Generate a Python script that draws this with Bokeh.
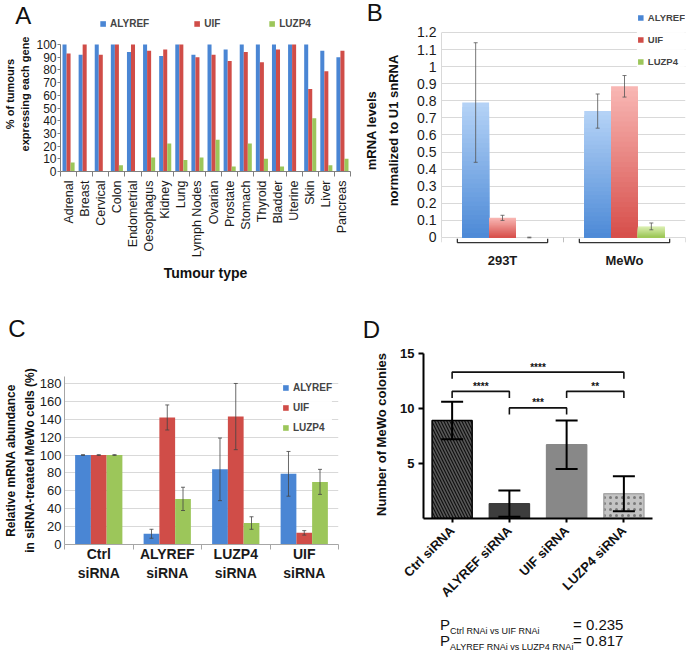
import numpy as np
from math import pi
from bokeh.plotting import figure
from bokeh.models import (Range1d, FixedTicker, Label, Legend, LegendItem, Whisker,
                          TeeHead, ColumnDataSource, Div, LinearAxis)
from bokeh.layouts import row, column
from bokeh.embed import file_html
from bokeh.resources import INLINE

FONT = "Liberation Sans"

# ---------------- data ----------------
genes = ["ALYREF", "UIF", "LUZP4"]

tumours = ["Adrenal", "Breast", "Cervical", "Colon", "Endometrial", "Oesophagus", "Kidney",
           "Lung", "Lymph Nodes", "Ovarian", "Prostate", "Stomach", "Thyroid", "Bladder",
           "Uterine", "Skin", "Liver", "Pancreas"]
a_alyref = [100, 92, 100, 100, 94, 100, 91, 100, 92, 100, 96, 100, 100, 100, 100, 100, 95, 90]
a_uif = [93, 100, 92, 100, 100, 95, 96, 100, 90, 92, 87, 94, 86, 96, 100, 65, 79, 95]
a_luzp4 = [7, 0, 0, 5, 0, 11, 22, 9, 11, 25, 4, 22, 10, 4, 0, 42, 5, 10]
a_yticks = list(range(0, 101, 10))

cell_lines = ["293T", "MeWo"]
b_alyref = [0.79, 0.74]
b_alyref_err = [0.35, 0.10]
b_uif = [0.115, 0.885]
b_uif_err = [0.015, 0.063]
b_luzp4 = [0.0, 0.065]
b_luzp4_err = [0.002, 0.02]
b_yticks = [0.0, 0.1, 0.2, 0.3, 0.4, 0.5, 0.6, 0.7, 0.8, 0.9, 1.0, 1.1, 1.2]

sirna = ["Ctrl\nsiRNA", "ALYREF\nsiRNA", "LUZP4\nsiRNA", "UIF\nsiRNA"]
c_alyref = [100, 12, 84, 79]
c_alyref_err = [0.4, 5, 35, 25]
c_uif = [100, 142, 143, 13]
c_uif_err = [0.4, 14, 37, 2.5]
c_luzp4 = [100, 51, 24, 70]
c_luzp4_err = [0.4, 13, 7, 14]
c_yticks = list(range(0, 181, 20))

d_groups = ["Ctrl siRNA", "ALYREF siRNA", "UIF siRNA", "LUZP4 siRNA"]
d_mean = [8.9, 1.35, 6.7, 2.25]
d_lower = [7.2, 0.15, 4.5, 0.65]
d_upper = [10.6, 2.55, 8.9, 3.85]
d_yticks = [5, 10, 15]
d_pairs = [(0, 3), (0, 1), (1, 2), (2, 3)]
d_stars = ["****", "****", "***", "**"]
d_bracket_y = [13.3, 11.55, 10.05, 11.55]
p_subs = ["Ctrl RNAi vs UIF RNAi", "ALYREF RNAi vs LUZP4 RNAi"]
p_values = ["= 0.235", "= 0.817"]

# ---------------- styles ----------------
BLUE, RED, GREEN = "#4a86d4", "#d04d48", "#9cc65a"
GRAD = [("#b4d2f6", "#4a88d6"), ("#f8b6b3", "#d64c48"), ("#dcefb4", "#98c451")]
TOP_H, BOT_H = 314, 336


def style(p):
    p.outline_line_color = None
    p.background_fill_color = "white"
    p.border_fill_color = "white"
    p.xgrid.visible = False
    p.ygrid.visible = False


def axis_font(ax, size, bold=False, color="#1a1a1a"):
    ax.major_label_text_font = FONT
    ax.major_label_text_font_size = f"{size}px"
    ax.major_label_text_font_style = "bold" if bold else "normal"
    ax.major_label_text_color = color


def axis_title(ax, text, size, standoff, line_height=1.0):
    ax.axis_label = text
    ax.axis_label_text_font = FONT
    ax.axis_label_text_font_size = f"{size}px"
    ax.axis_label_text_font_style = "bold"
    ax.axis_label_text_color = "#111111"
    ax.axis_label_standoff = standoff
    ax.axis_label_text_line_height = line_height


def outer_title(p, text, size, standoff):
    # first line of a two-line y-axis title, carried by a bare extra axis
    ax = LinearAxis(ticker=FixedTicker(ticks=[]), axis_line_color=None,
                    major_tick_line_color=None, minor_tick_line_color=None,
                    major_tick_out=0, major_tick_in=0, minor_tick_out=0, minor_tick_in=0,
                    major_label_standoff=0, major_label_text_font_size="0px")
    axis_title(ax, text, size, standoff)
    p.add_layout(ax, "left")


def mix(c1, c2, f):
    a = [int(c1[i:i + 2], 16) for i in (1, 3, 5)]
    b = [int(c2[i:i + 2], 16) for i in (1, 3, 5)]
    return "#%02x%02x%02x" % tuple(int(round(x + (y - x) * f)) for x, y in zip(a, b))


def legend(items, size=10, **kw):
    return Legend(items=items, label_text_font=FONT, label_text_font_size=f"{size}px",
                  label_text_font_style="bold", glyph_width=7, glyph_height=7,
                  label_height=10, label_standoff=4, border_line_color=None, **kw)


def whiskers(p, xs, vals, errs, color, width, size):
    src = ColumnDataSource(dict(base=list(xs),
                                lower=[v - e for v, e in zip(vals, errs)],
                                upper=[v + e for v, e in zip(vals, errs)]))
    p.add_layout(Whisker(source=src, base="base", lower="lower", upper="upper",
                         line_color=color, line_width=width, level="annotation",
                         upper_head=TeeHead(size=size, line_color=color, line_width=width),
                         lower_head=TeeHead(size=size, line_color=color, line_width=width)))


def letter(p, geo, ix, iy, text, side):
    # panel letter at a page-pixel position, expressed in the figure's data space,
    # kept in a side panel so that it is not clipped to the plot frame
    W, H, L, R, T, B, ox, oy = geo
    xr, yr = p.x_range, p.y_range
    fl, fr, ft, fb = ox + L, ox + W - R, oy + T, oy + H - B
    x = xr.start + (ix - fl) / (fr - fl) * (xr.end - xr.start)
    y = yr.start + (fb - iy) / (fb - ft) * (yr.end - yr.start)
    p.add_layout(Label(x=x, y=y, text=text, text_font=FONT, text_font_size="24px",
                       text_align="center", text_baseline="middle", text_color="#111111"),
                 side)


# ================= Panel A =================
GA = (360, TOP_H, 54, 10, 16, TOP_H - 171, 0, 0)
WA, HA, LA, RA, TA, BA = GA[:6]
xa = list(range(len(tumours)))
pa = figure(width=WA, height=HA, x_range=Range1d(-0.5, len(tumours) - 0.5),
            y_range=Range1d(0, 122.05), output_backend="svg", toolbar_location=None,
            min_border_left=LA, min_border_right=RA, min_border_top=TA, min_border_bottom=BA)
style(pa)
wa = 0.25
rs = []
for k, (vals, col) in enumerate(zip([a_alyref, a_uif, a_luzp4], [BLUE, RED, GREEN])):
    rs.append(pa.vbar(x=[x + (k - 1) * wa for x in xa], top=vals, width=wa,
                      fill_color=col, line_color=None))
ya = pa.yaxis[0]
ya.ticker = FixedTicker(ticks=a_yticks)
ya.bounds = (0, 100)
ya.axis_line_color = "#808080"
ya.major_tick_line_color = "#808080"
ya.major_tick_out, ya.major_tick_in = 3, 0
ya.minor_tick_line_color = None
ya.minor_tick_out, ya.minor_tick_in = 0, 0
ya.major_label_standoff = 1
axis_font(ya, 12)
axis_title(ya, "expressing each gene", 11, 2)
outer_title(pa, "% of tumours", 11, 1)
xax = pa.xaxis[0]
xax.ticker = FixedTicker(ticks=xa, minor_ticks=[x - 0.5 for x in xa] + [len(xa) - 0.5])
xax.major_label_overrides = {i: t for i, t in enumerate(tumours)}
xax.major_label_orientation = pi / 2
xax.major_tick_line_color = None
xax.major_tick_out, xax.major_tick_in = 0, 0
xax.minor_tick_line_color = "#808080"
xax.minor_tick_out, xax.minor_tick_in = 5, 0
xax.axis_line_color = "#808080"
xax.major_label_standoff = 4
axis_font(xax, 12.5)
axis_title(xax, "Tumour type", 14, 5)
pa.add_layout(legend([LegendItem(label=g, renderers=[r]) for g, r in zip(genes, rs)],
                     orientation="horizontal", location="top_center", spacing=44,
                     padding=2, margin=2, background_fill_alpha=0))
letter(pa, GA, 16, 15, "A", "below")

# ================= Panel B =================
GB = (336, TOP_H, 80, 11, 12, TOP_H - 248, 360, 0)
WB, HB, LB, RB, TB, BB = GB[:6]
xb = list(range(len(cell_lines)))
pb = figure(width=WB, height=HB, x_range=Range1d(-0.5, len(cell_lines) - 0.5),
            y_range=Range1d(-0.0644, 1.317), output_backend="svg", toolbar_location=None,
            min_border_left=LB, min_border_right=RB, min_border_top=TB, min_border_bottom=BB)
style(pb)
pb.ygrid.visible = True
pb.ygrid.ticker = FixedTicker(ticks=b_yticks)
pb.ygrid.grid_line_color = "#d9d9d9"
wb = 0.22
n = 30
for k, (vals, (ctop, cbot)) in enumerate(zip([b_alyref, b_uif, b_luzp4], GRAD)):
    lefts, rights, tops, cols = [], [], [], []
    for x, v in zip(xb, vals):
        for j in range(n, 0, -1):
            f = j / n
            lefts.append(x + (k - 1) * wb - wb / 2)
            rights.append(x + (k - 1) * wb + wb / 2)
            tops.append(v * f)
            cols.append(mix(cbot, ctop, f))
    pb.quad(left=lefts, right=rights, bottom=0, top=tops, fill_color=cols, line_color=None)
for k, (vals, errs) in enumerate(zip([b_alyref, b_uif, b_luzp4],
                                      [b_alyref_err, b_uif_err, b_luzp4_err])):
    whiskers(pb, [x + (k - 1) * wb for x in xb], vals, errs, "#555555", 0.8, 4)
bounds_x = [x - 0.5 for x in xb] + [len(xb) - 0.5]
pb.segment(x0=bounds_x, y0=0, x1=bounds_x, y1=-0.028, line_color="#bfbfbf", line_width=1)
bx, by = [], []
for x in xb:
    bx.append([x - 0.37, x - 0.37, x + 0.37, x + 0.37])
    by.append([-0.008, -0.03, -0.03, -0.008])
pb.multi_line(xs=bx, ys=by, line_color="#333333", line_width=1.3)
yb = pb.yaxis[0]
yb.ticker = FixedTicker(ticks=b_yticks)
yb.bounds = (0, 1.2)
yb.major_label_overrides = {0: "0", 1: "1"}
yb.axis_line_color = "#d9d9d9"
yb.major_tick_line_color = None
yb.major_tick_out, yb.major_tick_in = 0, 0
yb.minor_tick_line_color = None
yb.minor_tick_out, yb.minor_tick_in = 0, 0
yb.major_label_standoff = 5
axis_font(yb, 14)
axis_title(yb, "normalized to U1 snRNA", 13, 13)
outer_title(pb, "mRNA levels", 13, 5)
xbx = pb.xaxis[0]
xbx.ticker = FixedTicker(ticks=xb)
xbx.major_label_overrides = {i: t for i, t in enumerate(cell_lines)}
xbx.axis_line_color = None
xbx.major_tick_line_color = None
xbx.major_tick_out, xbx.major_tick_in = 0, 0
xbx.minor_tick_line_color = None
xbx.major_label_standoff = 4
axis_font(xbx, 13, bold=True)
lr = [pb.vbar(x=[np.nan], top=[np.nan], width=0.1, fill_color=c, line_color=None)
      for c in [BLUE, RED, GREEN]]
pb.add_layout(legend([LegendItem(label=g, renderers=[r]) for g, r in zip(genes, lr)],
                     size=9.5, location="top_right", spacing=11, padding=1, margin=0,
                     background_fill_color="white"))
letter(pb, GB, 373, 12, "B", "below")

# ================= Panel C =================
GC = (343, BOT_H, 62, 5, 376 - TOP_H, TOP_H + BOT_H - 544, 0, TOP_H)
WC, HC, LC, RC, TC, BC = GC[:6]
xc = list(range(len(sirna)))
pc = figure(width=WC, height=HC, x_range=Range1d(-0.5, len(sirna) - 0.5),
            y_range=Range1d(0, 187.8), output_backend="svg", toolbar_location=None,
            min_border_left=LC, min_border_right=RC, min_border_top=TC, min_border_bottom=BC)
style(pc)
pc.ygrid.visible = True
pc.ygrid.ticker = FixedTicker(ticks=c_yticks)
pc.ygrid.grid_line_color = "#d9d9d9"
wc = 0.23
rc = []
for k, (vals, col) in enumerate(zip([c_alyref, c_uif, c_luzp4], [BLUE, RED, GREEN])):
    rc.append(pc.vbar(x=[x + (k - 1) * wc for x in xc], top=vals, width=wc,
                      fill_color=col, line_color=None))
for k, (vals, errs) in enumerate(zip([c_alyref, c_uif, c_luzp4],
                                      [c_alyref_err, c_uif_err, c_luzp4_err])):
    whiskers(pc, [x + (k - 1) * wc for x in xc], vals, errs, "#444444", 0.8, 4)
yc = pc.yaxis[0]
yc.ticker = FixedTicker(ticks=c_yticks)
yc.axis_line_color = "#a6a6a6"
yc.major_tick_line_color = None
yc.major_tick_out, yc.major_tick_in = 0, 0
yc.minor_tick_line_color = None
yc.minor_tick_out, yc.minor_tick_in = 0, 0
yc.major_label_standoff = 3
axis_font(yc, 13)
axis_title(yc, "in siRNA-treated MeWo cells (%)", 12, 0)
outer_title(pc, "Relative mRNA abundance", 12, 2)
xcx = pc.xaxis[0]
xcx.ticker = FixedTicker(ticks=xc, minor_ticks=[x - 0.5 for x in xc] + [len(xc) - 0.5])
xcx.major_label_overrides = {i: t for i, t in enumerate(sirna)}
xcx.axis_line_color = "#a6a6a6"
xcx.major_tick_line_color = None
xcx.major_tick_out, xcx.major_tick_in = 0, 0
xcx.minor_tick_line_color = "#a6a6a6"
xcx.minor_tick_out, xcx.minor_tick_in = 5, 0
xcx.major_label_standoff = -4
axis_font(xcx, 14, bold=True)
pc.add_layout(legend([LegendItem(label=g, renderers=[r]) for g, r in zip(genes, rc)],
                     location="top_right", spacing=9, padding=5, margin=6,
                     background_fill_color="white"))
letter(pc, GC, 14, 328, "C", "below")

# ================= Panel D =================
DIV_H = 42
GD = (353, BOT_H - DIV_H, 80, 44, 350 - TOP_H, TOP_H + BOT_H - DIV_H - 523, 343, TOP_H)
WD, HD, LD, RD, TD, BD = GD[:6]
xd = list(range(len(d_groups)))
pd_ = figure(width=WD, height=HD, x_range=Range1d(-0.5, len(d_groups) - 0.5),
             y_range=Range1d(0, 15.265), output_backend="svg", toolbar_location=None,
             min_border_left=LD, min_border_right=RD, min_border_top=TD, min_border_bottom=BD)
style(pd_)
dsrc = ColumnDataSource(dict(
    x=xd, top=d_mean,
    fill=["#595959", "#3d3d3d", "#888888", "#c4c4c4"],
    line=["#000000", "#3d3d3d", "#888888", "#a8a8a8"],
    hatch=["left_diagonal_line", "blank", "blank", "dot"],
    hcol=["#111111", "#111111", "#111111", "#7a7a7a"],
))
pd_.vbar(x="x", top="top", width=0.7, source=dsrc, fill_color="fill", line_color="line",
         line_width=1.5, hatch_pattern="hatch", hatch_color="hcol", hatch_scale=6,
         hatch_weight=1.2)
src = ColumnDataSource(dict(base=xd, lower=d_lower, upper=d_upper))
pd_.add_layout(Whisker(source=src, base="base", lower="lower", upper="upper",
                       line_color="black", line_width=2, level="annotation",
                       upper_head=TeeHead(size=22, line_color="black", line_width=2),
                       lower_head=TeeHead(size=22, line_color="black", line_width=2)))
mx, my = [], []
for (i, j), h in zip(d_pairs, d_bracket_y):
    mx.append([i, i, j, j])
    my.append([h - 0.6, h, h, h - 0.6])
pd_.multi_line(xs=mx, ys=my, line_color="#111111", line_width=1.6)
for (i, j), h, s in zip(d_pairs, d_bracket_y, d_stars):
    pd_.add_layout(Label(x=(i + j) / 2, y=h + 0.45, text=s, text_font=FONT,
                         text_font_size="10px", text_font_style="bold",
                         text_align="center", text_baseline="middle", text_color="#111111"))
yd = pd_.yaxis[0]
yd.ticker = FixedTicker(ticks=d_yticks)
yd.bounds = (0, 15)
yd.axis_line_color = "black"
yd.axis_line_width = 2
yd.major_tick_line_color = "black"
yd.major_tick_line_width = 2
yd.major_tick_out, yd.major_tick_in = 5, 0
yd.minor_tick_line_color = None
yd.major_label_standoff = 4
axis_font(yd, 13, bold=True, color="#111111")
axis_title(yd, "Number of MeWo colonies", 13, 8, 1.15)
xdx = pd_.xaxis[0]
xdx.ticker = FixedTicker(ticks=xd)
xdx.major_label_overrides = {i: t for i, t in enumerate(d_groups)}
xdx.major_label_orientation = pi / 4
xdx.axis_line_color = "black"
xdx.axis_line_width = 2
xdx.major_tick_line_color = "black"
xdx.major_tick_line_width = 2
xdx.major_tick_out, xdx.major_tick_in = 4, 0
xdx.minor_tick_line_color = None
xdx.major_label_standoff = 6
axis_font(xdx, 13, bold=True, color="#111111")
letter(pd_, GD, 371, 328, "D", "above")

rows_html = "".join(
    f'<div style="height:16px;white-space:nowrap">'
    f'<span style="display:inline-block;width:133px">P<sub style="font-size:9px">{s}</sub></span>'
    f'{v}</div>' for s, v in zip(p_subs, p_values))
pdiv = Div(text=(f'<div style="font-family:\'Liberation Sans\',Arial,sans-serif;'
                 f'font-size:15px;line-height:16px;color:#111;padding:9px 0 0 97px">'
                 f'{rows_html}</div>'), width=353, height=DIV_H, margin=0)

# each figure sits in its own column so that Bokeh does not align the frames of neighbours
layout = column(row(column(pa), column(pb)), row(column(pc), column(pd_, pdiv)))
open("out.html", "w").write(file_html(layout, INLINE))
